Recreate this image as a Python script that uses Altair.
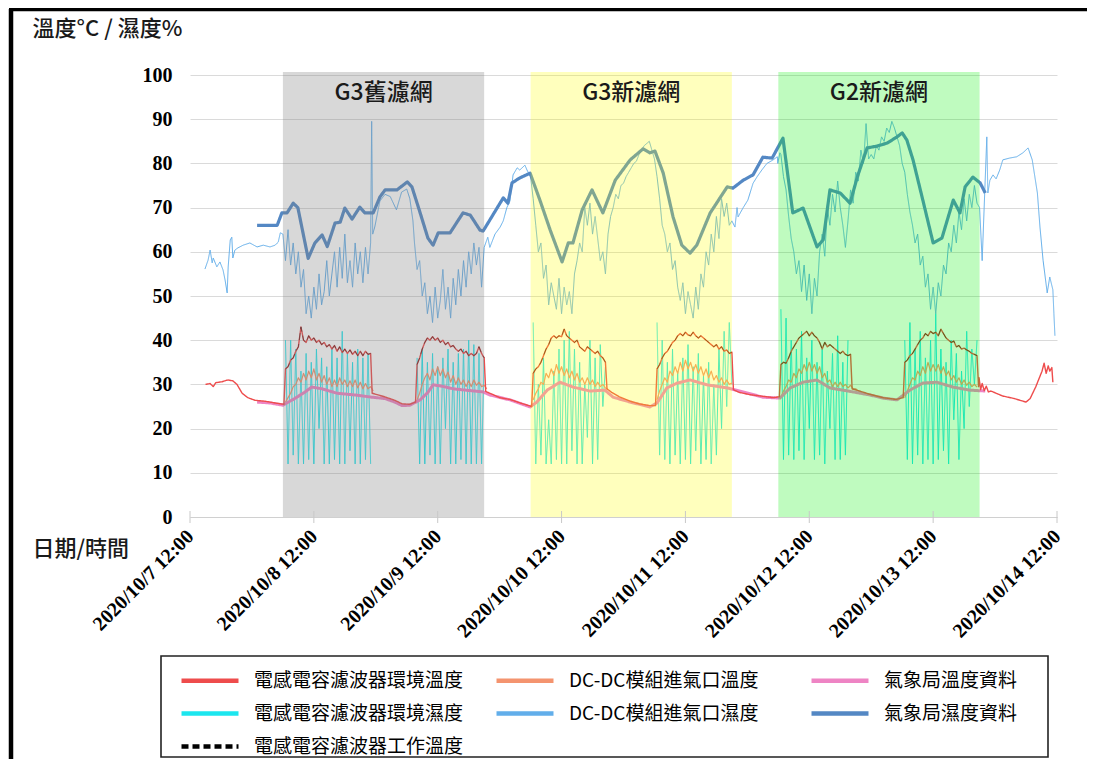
import altair as alt
import pandas as pd

BASE = pd.Timestamp("2020-10-07 12:00")   # hours below are counted from this moment

SERIES = ["電感電容濾波器環境溫度", "DC-DC模組進氣口溫度", "氣象局溫度資料",
          "電感電容濾波器環境濕度", "DC-DC模組進氣口濕度", "氣象局濕度資料",
          "電感電容濾波器工作溫度"]

region_names = ["G3舊濾網", "G3新濾網", "G2新濾網"]
region_start_h = [18, 66, 114]
region_end_h = [57, 105, 153]

tick_days = [7, 8, 9, 10, 11, 12, 13, 14]
y_ticks = [0, 10, 20, 30, 40, 50, 60, 70, 80, 90, 100]

# ---------- 氣象局濕度資料 ----------
wx_hum_h = [13.0, 16.9, 17.8, 18.8, 20.0, 20.9, 22.9, 24.2, 25.6, 26.6, 28.1, 29.1, 30.0, 31.4, 32.9, 33.9,
            35.5, 36.8, 37.8, 40.1, 42.1, 43.0, 44.6, 46.1, 47.1, 48.1, 50.4, 52.9, 54.3, 56.2, 56.8, 58.1,
            60.7, 61.6, 62.4, 63.9, 65.9, 67.8, 69.8, 72.1, 73.3, 74.2, 76.0, 77.9, 80.0, 82.4, 85.3, 87.8,
            89.1, 90.1, 91.7, 93.6, 95.3, 96.9, 98.2, 100.8, 104.1, 105.2, 107.2, 109.1, 111.0, 112.8, 114.9,
            116.8, 118.8, 121.5, 122.7, 124.0, 126.0, 127.9, 129.3, 131.2, 133.1, 135.1, 137.0, 138.0, 138.9,
            140.1, 142.0, 144.0, 145.7, 147.9, 149.2, 150.2, 151.7, 153.1, 154.1]
wx_hum_v = [66.0, 66.0, 68.8, 68.8, 71.0, 70.0, 58.5, 62.0, 63.8, 61.2, 66.5, 66.7, 69.9, 67.4, 70.1, 68.8,
            68.8, 72.4, 74.0, 74.0, 75.8, 74.7, 68.8, 63.1, 61.5, 64.3, 64.3, 68.8, 68.3, 64.9, 64.7, 67.2,
            72.2, 71.0, 75.6, 76.7, 77.8, 71.7, 64.9, 57.7, 62.0, 62.0, 69.5, 74.0, 68.8, 76.2, 80.8, 83.3,
            82.4, 82.8, 77.8, 67.9, 61.5, 59.7, 61.5, 68.8, 74.7, 74.4, 76.2, 77.4, 81.4, 81.2, 85.7,
            68.8, 69.9, 61.1, 62.7, 74.0, 73.3, 71.0, 76.9, 83.5, 83.9, 84.6, 86.0, 86.9, 85.3,
            80.8, 71.7, 62.0, 63.1, 71.7, 68.8, 74.7, 76.9, 75.6, 73.3]

# ---------- 氣象局溫度資料 ----------
wx_tmp_h = [13.0, 15.5, 18.0, 20.3, 22.3, 23.6, 25.6, 28.5, 32.0, 35.3, 37.8, 39.7, 41.1, 42.6, 44.6, 46.1,
            47.1, 48.8, 51.0, 54.3, 56.8, 58.1, 62.0, 65.9, 67.2, 69.2, 71.7, 74.2, 77.5, 80.4, 82.0, 85.3,
            89.1, 90.5, 92.4, 94.4, 96.9, 100.2, 104.1, 107.2, 111.0, 114.3, 116.3, 118.8, 121.5, 124.0,
            128.5, 131.8, 134.3, 137.0, 139.5, 142.0, 144.7, 147.8, 151.1, 154.1]
wx_tmp_v = [26.0, 25.8, 25.3, 26.8, 28.3, 29.4, 29.0, 28.0, 27.6, 27.1, 26.8, 26.0, 25.2, 25.3, 26.5, 28.2,
            29.9, 29.6, 29.0, 28.6, 28.3, 27.6, 26.5, 24.9, 26.0, 28.7, 30.5, 29.4, 28.5, 28.7, 27.1, 26.0,
            24.9, 25.8, 29.2, 30.3, 31.0, 29.9, 29.2, 28.3, 27.1, 26.9, 29.2, 30.5, 31.0, 29.2,
            28.3, 27.6, 26.9, 26.5, 28.7, 30.3, 30.5, 29.4, 28.7, 28.5]

# ---------- 電感電容濾波器環境溫度 (outside the working periods) ----------
env_amb_h = [3.0, 3.9, 4.5, 5.0, 6.2, 7.0, 7.4, 8.3, 9.1, 10.1, 11.2, 12.6, 14.5, 16.5, 18.2,
             35.3, 37.7, 39.7, 41.1, 42.6, 43.7,
             57.3, 58.5, 60.0, 62.0, 64.0, 66.2,
             80.8, 81.7, 83.2, 85.3, 87.0, 89.1, 90.2,
             105.3, 106.4, 108.4, 111.0, 113.0, 114.2,
             128.3, 129.5, 131.6, 134.3, 136.8, 138.2,
             152.8, 152.9, 153.2, 153.5, 153.9, 154.3, 154.7, 155.2, 157.4, 159.7,
             162.0, 162.8, 163.9, 165.1, 165.5, 165.9, 166.3, 166.6, 167.0, 167.2]
env_amb_v = [30.0, 30.2, 29.5, 30.4, 30.6, 30.9, 31.0, 30.8, 30.0, 28.0, 27.0, 26.4, 26.2, 25.8, 25.5,
             28.0, 27.2, 26.4, 25.6, 25.5, 26.0,
             28.4, 27.8, 27.0, 26.6, 25.8, 25.0,
             29.0, 28.2, 27.2, 26.2, 25.6, 25.2, 25.2,
             28.8, 28.2, 27.7, 27.3, 27.0, 27.2,
             29.0, 28.6, 27.8, 27.0, 26.6, 27.0,
             29.5, 31.5, 28.8, 30.2, 28.6, 29.6, 28.3, 28.5, 27.4, 26.8,
             26.0, 26.8, 29.5, 33.0, 34.8, 32.5, 34.2, 33.0, 33.8, 30.5]

# ---------- working periods (half-hour samples) ----------
seg_start_h = [18.5, 44.0, 66.5, 90.5, 114.5, 138.5]

work_1 = [33.5, 34.0, 35.5, 36.0, 37.5, 38.5, 43.0, 40.0, 39.5, 41.0, 40.0, 40.5, 39.5, 40.0, 39.0, 39.5, 38.5,
          39.0, 38.0, 38.8, 37.5, 38.5, 37.2, 38.0, 37.0, 37.8, 36.8, 37.5, 36.5, 37.5, 36.5, 37.5, 36.8, 37.0]
work_2 = [34.5, 36.0, 38.0, 39.5, 40.5, 40.0, 40.8, 40.0, 40.5, 39.5, 40.0, 39.0, 39.5, 38.5, 38.8, 38.0,
          37.5, 38.0, 37.0, 37.5, 36.5, 37.0, 36.5, 37.0, 38.5, 37.0, 36.0]
work_3 = [32.5, 33.5, 34.0, 35.0, 36.5, 38.0, 39.0, 40.5, 41.0, 40.5, 41.0, 40.8, 42.5, 41.0, 40.5, 40.0,
          39.5, 40.0, 38.5, 38.0, 37.5, 38.5, 38.0, 37.5, 37.0, 37.5, 36.5, 36.0, 35.0]
work_4 = [33.5, 34.5, 36.0, 37.0, 37.5, 38.5, 39.5, 40.0, 41.0, 41.5, 41.0, 41.8, 41.2, 41.0, 41.8, 41.0,
          40.5, 41.0, 40.5, 40.0, 39.5, 39.0, 38.5, 39.0, 38.0, 38.5, 37.5, 37.8, 37.0, 37.3]
work_5 = [34.5, 35.0, 34.8, 36.0, 37.5, 38.5, 39.5, 40.5, 41.0, 41.5, 42.0, 41.0, 41.8, 41.0, 40.5, 39.5,
          38.0, 39.5, 38.5, 39.0, 38.5, 38.0, 37.5, 37.0, 37.5, 36.8, 36.5, 36.8]
work_6 = [35.0, 35.5, 36.5, 37.0, 38.0, 39.0, 40.0, 40.5, 41.5, 41.0, 42.0, 41.5, 41.8, 41.0, 42.5, 41.5,
          40.5, 40.0, 39.5, 39.8, 38.5, 38.8, 38.0, 38.2, 37.8, 37.5, 37.0, 36.8, 36.5]

env_hum_1 = [40, 12, 40, 14, 38, 12, 33, 12, 37, 13, 35, 12, 38, 20, 36, 12, 34, 12, 38, 13, 36, 12, 42, 12,
             37, 15, 35, 12, 38, 12, 36, 13, 37, 12]
env_hum_2 = [36, 12, 38, 12, 35, 14, 37, 12, 34, 12, 36, 20, 38, 12, 35, 12, 37, 13, 38, 12, 40, 12, 39, 12,
             37, 12, 36]
env_hum_3 = [44, 12, 30, 14, 36, 12, 22, 12, 33, 13, 38, 12, 40, 12, 42, 15, 38, 12, 35, 12, 30, 18, 40, 12,
             36, 13, 39, 25, 34]
env_hum_4 = [44, 14, 40, 13, 35, 12, 38, 14, 33, 12, 36, 13, 39, 12, 34, 15, 37, 12, 32, 13, 35, 12, 30, 14,
             38, 20, 42, 25, 44, 30]
env_hum_5 = [47, 13, 45, 14, 40, 13, 38, 15, 42, 13, 36, 20, 40, 13, 35, 14, 38, 12, 33, 20, 37, 13, 41, 13,
             35, 14, 40]
env_hum_6 = [40, 13, 44, 12, 38, 14, 42, 12, 36, 13, 40, 12, 46, 13, 38, 15, 35, 12, 40, 22, 37, 13, 33, 20,
             42, 25, 38, 30, 40]

dc_tmp_1 = [26.0, 27.0, 28.0, 29.5, 30.0, 31.5, 30.5, 32.5, 31.0, 33.0, 31.5, 33.5, 31.0, 32.5, 30.5, 32.0,
            30.0, 31.5, 29.5, 31.0, 29.5, 31.5, 30.0, 31.0, 29.5, 30.8, 29.5, 31.0, 29.2, 30.5, 29.0, 30.2,
            29.0, 29.5, 28.5]
dc_tmp_2 = [26.5, 28.0, 30.0, 31.5, 32.5, 31.0, 33.5, 32.0, 34.0, 32.0, 33.5, 31.5, 32.8, 30.5, 32.0, 30.0,
            31.5, 30.0, 31.0, 29.5, 30.8, 29.5, 31.0, 29.8, 30.5, 29.5, 29.8, 29.0]
dc_tmp_3 = [26.5, 28.0, 29.0, 30.5, 30.0, 32.5, 31.5, 33.5, 32.0, 34.5, 32.5, 34.0, 32.0, 33.5, 31.5, 33.0,
            31.0, 32.5, 30.5, 31.5, 30.0, 31.5, 30.0, 31.0, 29.5, 30.5, 29.5, 30.0, 29.2, 28.8]
dc_tmp_4 = [26.5, 28.5, 30.0, 31.5, 30.5, 33.0, 32.0, 34.0, 32.5, 35.0, 33.0, 35.5, 33.5, 35.0, 33.0, 34.5,
            32.5, 34.0, 32.0, 33.5, 31.5, 33.0, 31.0, 32.0, 30.5, 31.5, 30.0, 31.0, 30.0, 30.3]
dc_tmp_5 = [27.0, 28.5, 29.5, 31.0, 30.5, 32.5, 31.5, 33.5, 32.5, 34.5, 33.0, 35.0, 33.0, 34.5, 32.5, 34.0,
            31.5, 32.5, 30.5, 31.0, 29.5, 30.5, 29.5, 30.5, 29.5, 30.0, 29.2, 29.8, 29.0, 29.0, 28.5, 28.2]
dc_tmp_6 = [27.0, 28.5, 30.0, 31.5, 31.0, 33.0, 32.0, 34.0, 32.5, 35.0, 33.0, 34.5, 33.0, 34.5, 32.5, 34.0,
            32.0, 33.0, 31.0, 32.0, 30.5, 31.5, 30.0, 31.0, 29.8, 30.5, 29.5, 30.0, 29.4]

# ---------- DC-DC模組進氣口濕度 ----------
dc_hum_knot_h = [2.9, 3.5, 3.9, 4.3, 4.5, 5.2, 5.8, 6.4, 6.8, 7.2, 7.4, 7.8, 8.1, 8.3, 8.7, 9.3, 10.3, 11.6,
                 13.0, 14.2, 15.5, 16.5, 17.1, 17.5,
                 35.2, 35.4, 35.8, 36.8, 37.8, 38.8, 40.0, 41.0, 42.0, 42.6, 43.2,
                 57.7, 58.1, 59.1, 60.1, 60.7, 61.4, 62.0, 62.6, 63.4, 63.9, 64.9, 65.3,
                 105.6, 106.0, 106.2, 107.2, 108.1, 109.1, 109.9, 110.8, 111.8, 113.0, 113.8, 113.9, 114.3,
                 154.4, 154.6, 155.0, 155.6, 156.2, 156.9, 157.5, 158.8, 160.2, 161.4, 162.4, 163.2, 164.2,
                 164.7, 165.3, 166.1, 166.6, 167.2, 167.4, 167.6]
dc_hum_knot_v = [56.1, 58.1, 60.4, 57.5, 58.6, 56.6, 57.7, 55.9, 53.6, 50.7, 56.6, 62.7, 63.3, 58.6, 60.4, 60.9,
                 61.5, 62.0, 61.1, 61.5, 61.1, 61.5, 62.2, 64.3,
                 89.5, 64.0, 65.6, 71.5, 73.0, 72.5, 69.5, 73.5, 74.2, 72.0, 67.0,
                 63.3, 61.0, 64.0, 65.6, 67.0, 70.0, 71.5, 77.4, 79.0, 78.5, 79.6, 78.5,
                 65.6, 70.0, 67.9, 70.0, 71.7, 75.5, 77.0, 78.5, 80.0, 80.8, 81.5, 80.0, 82.4,
                 86.0, 73.3, 76.2, 77.4, 76.5, 78.5, 80.8, 81.2, 81.5, 82.4, 83.5, 80.8, 73.3,
                 65.6, 58.1, 50.7, 54.3, 51.4, 46.0, 41.0]
dc_hum_op_start_h = [18.0, 43.5, 66.0, 114.5]
dc_hum_op_1 = [64, 58, 65, 57, 62, 55, 60, 52, 56, 46, 50, 45, 52, 47, 55, 48, 51, 58, 50, 55, 60, 52, 61, 54,
               64, 53, 58, 52, 62, 55, 60, 53, 61, 55, 62]
dc_hum_op_2 = [62, 56, 58, 50, 53, 46, 50, 44, 52, 45, 49, 56, 47, 52, 45, 54, 48, 56, 50, 58, 52, 60, 55, 62,
               57, 61, 52, 61]
dc_hum_op_3 = [77, 72, 66, 60, 62, 54, 57, 48, 53, 50, 47, 54, 46, 52, 48, 51, 46, 55, 58, 62, 60, 70, 66, 71,
               64, 68, 63, 58, 60, 55, 64, 68, 70, 73, 72, 75, 75.5, 77, 78, 79, 80, 80.5, 82, 83, 84, 84.5,
               85, 83, 81, 77, 72, 66, 64, 60, 62, 56, 58, 52, 49, 53, 46, 51, 48, 45, 52, 47, 55, 52, 60, 57,
               64, 60, 68, 63, 72, 68, 71, 66, 67]
dc_hum_op_4 = [82, 77, 74, 68, 63, 60, 55, 58, 51, 57, 49, 55, 46, 54, 50, 60, 64, 59, 70, 66, 73, 69, 76, 70,
               66, 61, 67, 74, 71, 78, 76, 83, 80, 89, 81, 82, 81, 84, 83, 86, 85, 88, 87, 89.5, 88, 86, 84,
               80, 78, 73, 69, 66, 62, 64, 57, 59, 52, 55, 47, 52, 46, 53, 50, 57, 55, 62, 60, 66, 62, 69, 65,
               72, 67, 73, 70, 75, 71, 70, 58]


# ---------------- table building ----------------
def stamp(h):
    return (BASE + pd.Timedelta(hours=float(h))).strftime("%Y-%m-%dT%H:%M:%S")


def rows(hs, vs, series, seg=0):
    return [{"t": stamp(h), "v": float(v), "series": series, "seg": seg} for h, v in zip(hs, vs)]


def stepped(h0, vs, series, seg=0, step=0.5):
    return rows([h0 + i * step for i in range(len(vs))], vs, series, seg)


S_ENV_T, S_DC_T, S_WX_T, S_ENV_H, S_DC_H, S_WX_H, S_WORK = SERIES
work_segs = [work_1, work_2, work_3, work_4, work_5, work_6]
env_hum_segs = [env_hum_1, env_hum_2, env_hum_3, env_hum_4, env_hum_5, env_hum_6]
dc_tmp_segs = [dc_tmp_1, dc_tmp_2, dc_tmp_3, dc_tmp_4, dc_tmp_5, dc_tmp_6]
dc_hum_ops = [dc_hum_op_1, dc_hum_op_2, dc_hum_op_3, dc_hum_op_4]

df_wx_h = pd.DataFrame(rows(wx_hum_h, wx_hum_v, S_WX_H))
df_wx_t = pd.DataFrame(rows(wx_tmp_h, wx_tmp_v, S_WX_T))
env_rows = rows(env_amb_h, env_amb_v, S_ENV_T)
for h0, seg in zip(seg_start_h, work_segs):
    env_rows += stepped(h0, seg, S_ENV_T)
df_env_t = pd.DataFrame(env_rows)
df_work = pd.DataFrame(sum([stepped(h0, s, S_WORK, i) for i, (h0, s) in enumerate(zip(seg_start_h, work_segs))], []))
df_env_h = pd.DataFrame(sum([stepped(h0, s, S_ENV_H, i) for i, (h0, s) in enumerate(zip(seg_start_h, env_hum_segs))], []))
df_dc_t = pd.DataFrame(sum([stepped(h0, s, S_DC_T, i) for i, (h0, s) in enumerate(zip(seg_start_h, dc_tmp_segs))], []))
dch_rows = rows(dc_hum_knot_h, dc_hum_knot_v, S_DC_H)
for h0, seg in zip(dc_hum_op_start_h, dc_hum_ops):
    dch_rows += stepped(h0, seg, S_DC_H)
df_dc_h = pd.DataFrame(dch_rows)

df_reg = pd.DataFrame({
    "name": region_names,
    "t0": [stamp(h) for h in region_start_h],
    "t1": [stamp(h) for h in region_end_h],
    "mid": [stamp((a + b) / 2) for a, b in zip(region_start_h, region_end_h)],
})
df_ticks = pd.DataFrame({"t": [f"2020-10-{d:02d}T12:00:00" for d in tick_days]})
one = pd.DataFrame({"k": [0]})

# ---------------- scales, axes, legend ----------------
CJK = "Noto Sans CJK TC"
SERIF = "Liberation Serif"
COLORS = ["#EE4C4C", "#F4946F", "#EE84C4", "#1CE6EE", "#62AEEA", "#5488C4", "#000000"]
DASHES = [[1, 0], [1, 0], [1, 0], [1, 0], [1, 0], [1, 0], [7, 4]]

xsc = alt.Scale(domain=[alt.DateTime(year=2020, month=10, date=7, hours=12),
                        alt.DateTime(year=2020, month=10, date=14, hours=12)], nice=False)
ysc = alt.Scale(domain=[0, 100], nice=False, zero=True)

xax = alt.Axis(title="日期/時間",
               values=[alt.DateTime(year=2020, month=10, date=d, hours=12) for d in tick_days],
               format="%Y/%-m/%-d %H:%M", labelAngle=-45, labelAlign="right", labelBaseline="middle",
               labelFont=SERIF, labelFontWeight="bold", labelFontSize=20, labelColor="black",
               labelPadding=16, labelOverlap=False, labelFlush=False, labelBound=False,
               tickSize=0, domainColor="#d0d0d0", domainWidth=1, grid=False,
               titleX=-158, titleY=31, titleAngle=0, titleAlign="left", titleBaseline="middle",
               titleFont=CJK, titleFontSize=22, titleFontWeight=500, titleColor="#1a1a1a")
yax = alt.Axis(title="溫度°C / 濕度%", values=y_ticks,
               labelFont=SERIF, labelFontWeight="bold", labelFontSize=20, labelColor="black",
               labelPadding=18, ticks=False, domain=False, grid=True, gridColor="#dadada", gridWidth=1,
               titleX=-158, titleY=-47, titleAngle=0, titleAlign="left", titleBaseline="middle",
               titleFont=CJK, titleFontSize=22, titleFontWeight=500, titleColor="#1a1a1a")

LEG = alt.Legend(title=None, orient="none", legendX=-18, legendY=596, columns=3, direction="horizontal",
                 gridAlign="all", columnPadding=23, rowPadding=13, padding=0,
                 symbolType="M0,0L57,0", symbolSize=4, symbolStrokeWidth=4.5, symbolOpacity=1,
                 labelFont=CJK, labelFontSize=19, labelColor="black", labelOffset=63, labelLimit=400)

X = alt.X("t:T", scale=xsc, axis=xax)
Y = alt.Y("v:Q", scale=ysc, axis=yax)
COLOR = alt.Color("series:N", scale=alt.Scale(domain=SERIES, range=COLORS), legend=LEG)
DASH = alt.StrokeDash("series:N", scale=alt.Scale(domain=SERIES, range=DASHES), legend=LEG)


def line_layer(df, width, opacity=1.0):
    return (alt.Chart(df).mark_line(strokeWidth=width, strokeJoin="round", opacity=opacity)
            .encode(x=X, y=Y, color=COLOR, strokeDash=DASH, detail="seg:N"))


layers = [
    line_layer(df_env_h, 1.0),
    line_layer(df_dc_h, 1.0),
    line_layer(df_wx_h, 3.2),
    line_layer(df_dc_t, 1.2),
    line_layer(df_wx_t, 3.0),
    line_layer(df_env_t, 1.4),
    line_layer(df_work, 0.9, 0.55),
]

overlay_style = {"G3舊濾網": ("#7f7f7f", 0.30), "G3新濾網": ("#ffff00", 0.26), "G2新濾網": ("#00ee00", 0.25)}
for name in region_names:
    col, op = overlay_style[name]
    layers.append(
        alt.Chart(df_reg).transform_filter(alt.datum.name == name)
        .mark_rect(color=col, opacity=op)
        .encode(x=alt.X("t0:T", scale=xsc, axis=xax), x2="t1:T", y=alt.value(-3), y2=alt.value(442))
    )

layers.append(
    alt.Chart(df_reg).mark_text(font=CJK, fontSize=23, fontWeight=500, color="#1a1a1a", baseline="middle")
    .encode(x=alt.X("mid:T", scale=xsc, axis=xax), y=alt.value(18), text="name:N")
)
layers.append(
    alt.Chart(df_ticks).mark_rule(color="#c8c8c8", strokeWidth=1)
    .encode(x=alt.X("t:T", scale=xsc, axis=xax), y=alt.value(436), y2=alt.value(448))
)
# legend box and outer frame
layers.append(
    alt.Chart(one).mark_rect(fill="white", fillOpacity=0, stroke="#222222", strokeWidth=1.6)
    .encode(x=alt.value(-29), x2=alt.value(858), y=alt.value(581), y2=alt.value(682))
)
layers.append(
    alt.Chart(one).mark_rule(color="black", strokeWidth=4.5)
    .encode(x=alt.value(-179), y=alt.value(-66), y2=alt.value(700))
)
layers.append(
    alt.Chart(one).mark_rule(color="black", strokeWidth=4.5)
    .encode(x=alt.value(-181), x2=alt.value(915), y=alt.value(-66))
)

chart = (
    alt.layer(*layers)
    .properties(width=867, height=442,
                padding={"left": 182, "top": 67, "right": 30, "bottom": 242},
                autosize=alt.AutoSizeParams(type="none"))
    .configure(background="white")
    .configure_view(stroke=None)
)

chart.save("out.html", embed_options={"renderer": "svg", "actions": False})
